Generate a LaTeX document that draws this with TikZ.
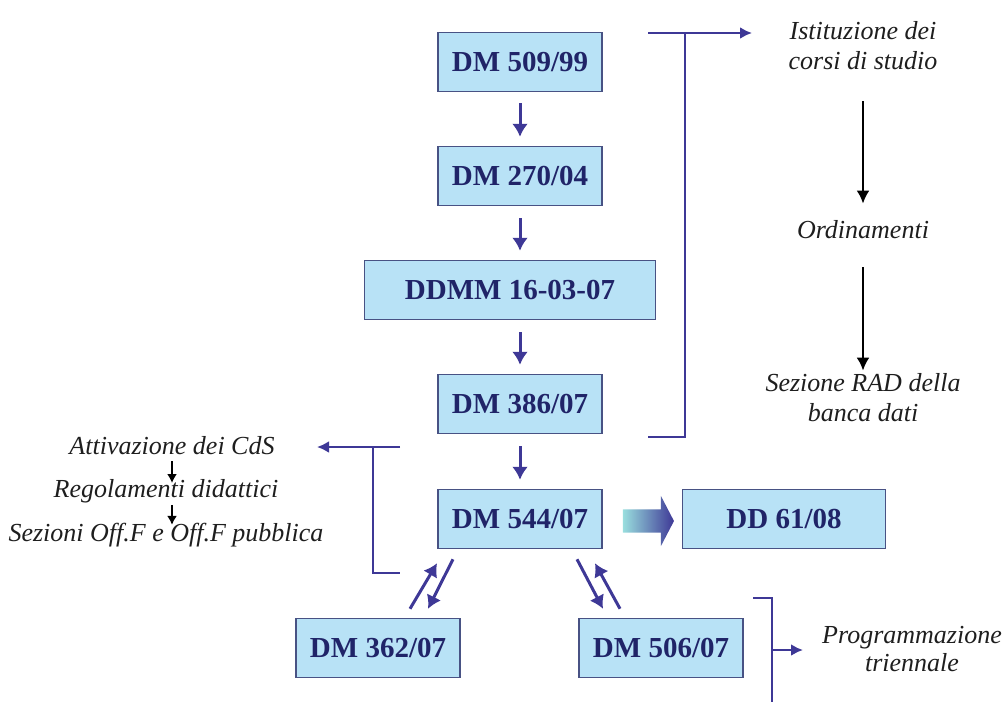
\documentclass[tikz,border=0pt]{standalone}
\usepackage{fontspec}
\setmainfont{Liberation Serif}
\usetikzlibrary{arrows, arrows.meta, shapes.arrows, positioning}
\definecolor{boxfill}{RGB}{184,226,246}
\definecolor{boxline}{RGB}{72,82,132}
\definecolor{boxtext}{RGB}{32,36,104}
\definecolor{arrowblue}{RGB}{62,56,150}
\definecolor{notetext}{RGB}{30,30,30}
\tikzstyle{decree} = [rectangle, minimum width=164pt, minimum height=59pt, text centered, draw=boxline, line width=1.5pt, fill=boxfill, text=boxtext, font=\fontsize{29}{32}\selectfont\bfseries]
\tikzstyle{note} = [align=center, inner sep=0pt, text=notetext, font=\fontsize{26}{30}\selectfont\itshape]
\tikzstyle{link} = [-{Latex[length=13pt,width=16pt]}, line width=3pt, draw=arrowblue]
\tikzstyle{bracket} = [line width=2.5pt, draw=arrowblue]
\tikzstyle{chain} = [-{Latex[length=13pt,width=13pt]}, line width=2.5pt, draw=black]
\tikzstyle{smallchain} = [-{Latex[length=9pt,width=10pt]}, line width=1.8pt, draw=black]

\begin{document}
\begin{tikzpicture}[x=1pt, y=-1pt]
        \useasboundingbox (0,0) rectangle (1008,702);

        % main column of decrees
        \node[decree] (m509) at (520,62) {DM 509/99};
        \node[decree] (m270) at (520,176) {DM 270/04};
        \node[decree, minimum width=291pt] (dd16) at (510,290) {DDMM 16-03-07};
        \node[decree] (m386) at (520,404) {DM 386/07};
        \node[decree] (m544) at (520,519) {DM 544/07};
        \node[decree, minimum width=203pt] (dd61) at (784,519) {DD 61/08};
        \node[decree] (m362) at (378,648) {DM 362/07};
        \node[decree] (m506) at (661,648) {DM 506/07};

        \draw [link, shorten <=11pt, shorten >=9pt] (m509) -- (m509 |- m270.north);
        \draw [link, shorten <=12pt, shorten >=9pt] (m270) -- (m270 |- dd16.north);
        \draw [link, shorten <=12pt, shorten >=9pt] (m386 |- dd16.south) -- (m386);
        \draw [link, shorten <=12pt, shorten >=9pt] (m386) -- (m544);

        % fat arrow to DD 61/08
        \node[single arrow, right=20pt of m544, yshift=-2pt, inner sep=0pt, text height=23pt, text depth=0pt, minimum height=51pt,
              single arrow head extend=13.5pt, single arrow tip angle=125, left color=cyan!35!teal!40, right color=arrowblue] (push) {};

        % crossed arrows below DM 544/07
        \draw [link] ([xshift=32pt, yshift=9pt]m362.north) -- ([xshift=-83pt, yshift=-14pt]m544.south);
        \draw [link] ([xshift=-67pt, yshift=-10pt]m544.south) -- ([xshift=50pt, yshift=9pt]m362.north);
        \draw [link] ([xshift=57pt, yshift=-10pt]m544.south) -- ([xshift=-58pt, yshift=9pt]m506.north);
        \draw [link] ([xshift=-41pt, yshift=9pt]m506.north) -- ([xshift=75pt, yshift=-14pt]m544.south);

        % notes on the right
        \node[note] (istit) at (863,46) {Istituzione dei\\corsi di studio};
        \node[note] (ordin) at (863,230) {Ordinamenti};
        \node[note] (rad) at (863,398) {Sezione RAD della\\banca dati};
        \draw [chain, shorten <=31pt, shorten >=17pt] (istit) -- (ordin);
        \draw [chain, shorten <=28pt, shorten >=3pt] (ordin) -- (rad);

        \coordinate (rtop) at (648,33);
        \coordinate (rtopbend) at (685,33);
        \coordinate (rtopend) at (752,33);
        \coordinate (rbot) at (648,437);
        \coordinate (rbotbend) at (685,437);
        \draw [bracket, -{Latex[length=12pt,width=12pt]}] (rtop) -- (rtopend);
        \draw [bracket] (rtopbend) -- (rbotbend) -- (rbot);

        % notes on the left
        \node[note] (attiv) at (172,446) {Attivazione dei CdS};
        \node[note] (regol) at (166,491) {Regolamenti didattici};
        \node[note] (offf) at (166,535) {Sezioni Off.F e Off.F pubblica};
        \draw [smallchain, shorten <=6pt, shorten >=-4pt] (attiv.south) -- (attiv.south |- regol.north);
        \draw [smallchain, shorten <=2pt, shorten >=-2pt] (regol.south -| attiv) -- (attiv |- offf.north);

        \coordinate (ltop) at (400,447);
        \coordinate (ltopbend) at (373,447);
        \coordinate (ltopend) at (317,447);
        \coordinate (lbot) at (400,573);
        \coordinate (lbotbend) at (373,573);
        \draw [bracket, -{Latex[length=12pt,width=12pt]}] (ltop) -- (ltopend);
        \draw [bracket] (ltopbend) -- (lbotbend) -- (lbot);

        % programmazione
        \node[note, font=\fontsize{26}{28}\selectfont\itshape] (progr) at (912,649) {Programmazione\\triennale};
        \coordinate (ptop) at (753,598);
        \coordinate (pbend) at (772,598);
        \coordinate (pbot) at (772,702);
        \coordinate (pmid) at (772,650);
        \coordinate (pend) at (803,650);
        \draw [bracket] (ptop) -- (pbend) -- (pbot);
        \draw [bracket, -{Latex[length=12pt,width=12pt]}] (pmid) -- (pend);

    \end{tikzpicture}
\end{document}
